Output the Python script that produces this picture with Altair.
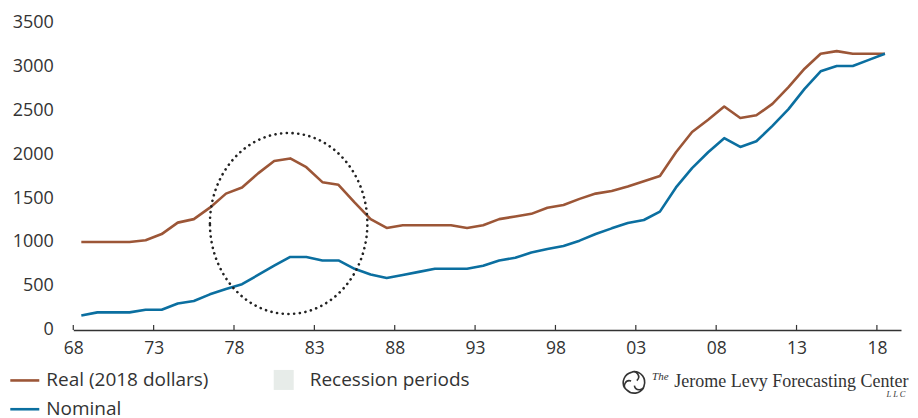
import math
import altair as alt
import pandas as pd

# ---------------- data ----------------
years = list(range(1968, 2019))
real = [1000, 1000, 1000, 1000, 1020, 1090, 1220, 1260, 1390, 1550,
        1620, 1780, 1920, 1950, 1850, 1680, 1650, 1450, 1260, 1160,
        1190, 1190, 1190, 1190, 1160, 1190, 1260, 1290, 1320, 1390,
        1420, 1490, 1550, 1580, 1630, 1690, 1750, 2020, 2250, 2390,
        2540, 2410, 2440, 2570, 2760, 2970, 3140, 3170, 3140, 3140,
        3140]
nominal = [165, 200, 200, 200, 230, 230, 300, 330, 405, 465,
           520, 625, 730, 830, 830, 790, 790, 695, 630, 590,
           625, 660, 695, 695, 695, 730, 790, 820, 880, 920,
           955, 1015, 1090, 1155, 1215, 1250, 1345, 1620, 1840, 2020,
           2180, 2080, 2145, 2320, 2510, 2740, 2940, 3000, 3000, 3070,
           3140]
series_names = ["Real (2018 dollars)", "Nominal"]
series_colors = ["#9C5637", "#0B6FA0"]
x_tick_years = list(range(1968, 2019, 5))
y_tick_values = [0, 500, 1000, 1500, 2000, 2500, 3000, 3500]
recession_label = ["Recession periods"]
logo_words = ["The", "Jerome Levy Forecasting Center", "L L C"]
# highlighted region (centre in data units)
circle_year = [1981.4]
circle_value = [1210]

# ---------------- tables ----------------
df = pd.DataFrame({
    "year": years * 2,
    "value": real + nominal,
    "series": [series_names[0]] * len(years) + [series_names[1]] * len(years),
})
df["t"] = df["year"] + 0.5  # annual values plotted at mid-year

W, H = 828, 308
FONT = "Open Sans"
TXT = "#333333"

x_scale = alt.Scale(domain=[1968, 2019.5], nice=False, zero=False)
y_scale = alt.Scale(domain=[0, 3500], nice=False)
color_scale = alt.Scale(domain=series_names, range=series_colors)

x_axis = alt.Axis(values=x_tick_years, title=None, grid=False, ticks=False,
                  labelExpr="substring(toString(datum.value), 2, 4)",
                  domainColor="#333333", domainWidth=1.5,
                  labelFont=FONT, labelFontSize=17.5, labelColor=TXT,
                  labelPadding=10, labelFlush=False)
y_axis = alt.Axis(values=y_tick_values, title=None, grid=False, ticks=False,
                  domain=False, format="d", labelFont=FONT, labelFontSize=18,
                  labelColor=TXT, labelPadding=20)

base = alt.Chart(df)


def series_line(name):
    return base.transform_filter(alt.datum.series == name).mark_line(
        strokeWidth=2.6, strokeJoin="round"
    ).encode(
        x=alt.X("t:Q", scale=x_scale, axis=x_axis),
        y=alt.Y("value:Q", scale=y_scale, axis=y_axis),
        color=alt.Color("series:N", scale=color_scale, legend=None),
    )


real_line = series_line(series_names[0])
nom_line = series_line(series_names[1])

# upward tick marks on the x axis
ticks = alt.Chart(pd.DataFrame({"t": x_tick_years})).mark_rule(
    color="#333333", strokeWidth=1.2
).encode(
    x=alt.X("t:Q", scale=x_scale, axis=x_axis),
    y=alt.value(H - 5),
    y2=alt.value(H),
)

# dotted ellipse
ellipse_path = "M -0.87 0 A 0.87 1 0 1 1 0.87 0 A 0.87 1 0 1 1 -0.87 0 Z"
ellipse = alt.Chart(pd.DataFrame({"t": circle_year, "value": circle_value})).mark_point(
    shape=ellipse_path, size=181 * 181, filled=False, color="#222222",
    strokeWidth=2.6, strokeDash=[0.1, 5.6], strokeCap="round", opacity=1
).encode(
    x=alt.X("t:Q", scale=x_scale, axis=x_axis),
    y=alt.Y("value:Q", scale=y_scale, axis=y_axis),
)

# ---------------- legend ----------------
one = pd.DataFrame({"k": [0]})


def legend_item(i, ypix):
    rule = alt.Chart(one).mark_rule(color=series_colors[i], strokeWidth=2.6).encode(
        x=alt.value(-63), x2=alt.value(-34), y=alt.value(ypix))
    text = alt.Chart(pd.DataFrame({"label": [series_names[i]]})).mark_text(
        align="left", baseline="middle", font=FONT, fontSize=19, color=TXT
    ).encode(text="label:N", x=alt.value(-27), y=alt.value(ypix))
    return [rule, text]


leg_real = legend_item(0, 358.5)
leg_nom = legend_item(1, 387.3)

rec_square = alt.Chart(one).mark_square(size=400, color="#E7ECE9", opacity=1).encode(
    x=alt.value(210.5), y=alt.value(358))
rec_text = alt.Chart(pd.DataFrame({"label": recession_label})).mark_text(
    align="left", baseline="middle", font=FONT, fontSize=19, color=TXT
).encode(text="label:N", x=alt.value(236.5), y=alt.value(358))

# ---------------- logo ----------------
parts = []
for k in range(3):
    a0 = math.radians(-90 + 120 * k)
    a1 = a0 + math.radians(105)
    a2 = a1 + math.radians(70)
    x0, y0 = math.cos(a0), math.sin(a0)
    x1, y1 = 0.95 * math.cos(a1), 0.95 * math.sin(a1)
    x2, y2 = 0.3 * math.cos(a2), 0.3 * math.sin(a2)
    parts.append(f"M {x0:.3f} {y0:.3f} A 0.97 0.97 0 0 1 {x1:.3f} {y1:.3f} "
                 f"A 0.45 0.45 0 0 1 {x2:.3f} {y2:.3f}")
swirl_path = " ".join(parts)
swirl = alt.Chart(one).mark_point(
    shape=swirl_path, size=22 * 22, filled=False, color="#333333",
    strokeWidth=1.6, opacity=1
).encode(x=alt.value(561), y=alt.value(360.5))

logo_the = alt.Chart(pd.DataFrame({"w": [logo_words[0]]})).mark_text(
    align="left", baseline="alphabetic", font="Liberation Serif", fontStyle="italic",
    fontSize=11, color=TXT
).encode(text="w:N", x=alt.value(579), y=alt.value(358))
logo_name = alt.Chart(pd.DataFrame({"w": [logo_words[1]]})).mark_text(
    align="right", baseline="alphabetic", font="Liberation Serif",
    fontSize=18, color=TXT
).encode(text="w:N", x=alt.value(835.5), y=alt.value(364.7))
logo_llc = alt.Chart(pd.DataFrame({"w": [logo_words[2]]})).mark_text(
    align="right", baseline="alphabetic", font="Liberation Serif", fontStyle="italic",
    fontSize=8.5, color=TXT
).encode(text="w:N", x=alt.value(832.5), y=alt.value(375))

chart = alt.layer(
    real_line, nom_line, ticks, ellipse,
    *leg_real, *leg_nom, rec_square, rec_text,
    swirl, logo_the, logo_name, logo_llc,
).properties(
    width=W, height=H,
    autosize=alt.AutoSizeParams(type="none"),
    padding={"left": 65.3, "top": 14, "right": 9, "bottom": 88},
).configure_view(stroke=None)

chart.save("out.html", embed_options={"renderer": "svg", "actions": False})
